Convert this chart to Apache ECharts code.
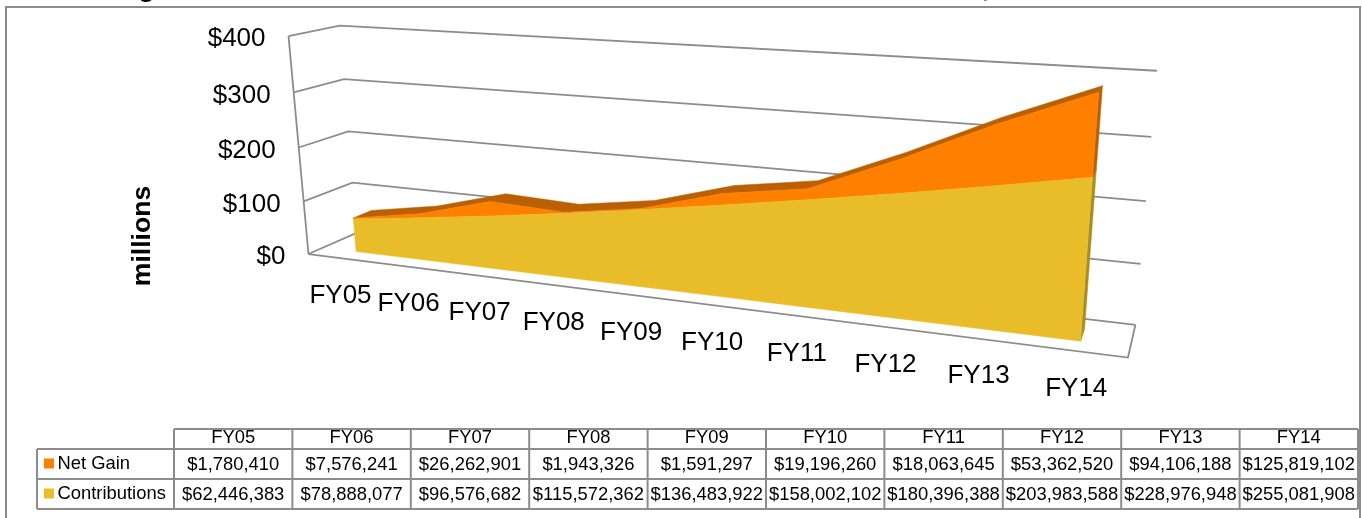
<!DOCTYPE html>
<html><head><meta charset="utf-8">
<style>html,body{margin:0;padding:0;background:#fff;overflow:hidden}#c{width:1362px;height:518px}</style>
<script src="https://cdn.jsdelivr.net/npm/echarts@6/dist/echarts.min.js"></script>
</head><body><div id="c"></div>
<script>
const categories = ['FY05','FY06','FY07','FY08','FY09','FY10','FY11','FY12','FY13','FY14'];
const netGain = [1780410,7576241,26262901,1943326,1591297,19196260,18063645,53362520,94106188,125819102];
const contributions = [62446383,78888077,96576682,115572362,136483922,158002102,180396388,203983588,228976948,255081908];
const yTicks = [0,100,200,300,400];
const titleText = 'Figure 4 - Total Cumulative Contribution and Net Investment Gain, FY';
const axisTitle = 'millions';

const FONT = '"Liberation Sans", Arial, sans-serif';
const GRID = {left:100,top:100,width:1000,height:300};
// picture positions of the chart box corners: [u, depth, t] -> [x, y]
const anchors = [
 [0,0,0,308,254],[0,0,1,288,37],[0,0,.5,299,147],[0,0,.25,304,201],[0,0,.75,294,92],
 [0,1,0,357,233],[0,1,1,340,25],[0,1,.5,348,132],[0,1,.25,352,183],[0,1,.75,344,79],
 [1,1,0,1135,325],[1,1,1,1157,71],[1,1,.5,1146,201],[1,1,.25,1141,263],[1,1,.75,1151,137],
 [1,0,0,1128,358]
];
function solveCamera(){
  const n=11, A=Array.from({length:n},()=>new Array(n+1).fill(0));
  const add=(r,b)=>{for(let i=0;i<n;i++){for(let j=0;j<n;j++)A[i][j]+=r[i]*r[j];A[i][n]+=r[i]*b;}};
  anchors.forEach(([u,w,t,x,y])=>{
    add([u,w,t,1,0,0,0,0,-x*u,-x*w,-x*t],x);
    add([0,0,0,0,u,w,t,1,-y*u,-y*w,-y*t],y);
  });
  for(let c=0;c<n;c++){
    let p=c;for(let r=c+1;r<n;r++)if(Math.abs(A[r][c])>Math.abs(A[p][c]))p=r;
    [A[c],A[p]]=[A[p],A[c]];
    for(let r=0;r<n;r++){if(r===c)continue;const f=A[r][c]/A[c][c];for(let j=c;j<=n;j++)A[r][j]-=f*A[c][j];}
  }
  return A.map((row,i)=>row[n]/row[i]);
}
const P=solveCamera();
function project(u,w,t){
  const d=P[8]*u+P[9]*w+P[10]*t+1;
  return [(P[0]*u+P[1]*w+P[2]*t+P[3])/d,(P[4]*u+P[5]*w+P[6]*t+P[7])/d];
}
const FRONT=0.30, BACK=0.68;
// through the hidden axes' scales
function uOf(api,i){return (api.coord([i,0])[0]-GRID.left)/GRID.width;}
function tOf(api,v){return (GRID.top+GRID.height-api.coord([0,v])[1])/GRID.height;}
const money=v=>'$'+v.toLocaleString('en-US');

const lineStyle={stroke:'#8c8c8c',lineWidth:1.8,fill:null};
function renderFrame(params,api){
  const v=api.value(1), t=tOf(api,v);
  const children=[{type:'polyline',shape:{points:[project(0,0,t),project(0,1,t),project(1,1,t)]},style:lineStyle}];
  if(v===0){
    children.push({type:'polyline',shape:{points:[project(0,0,0),project(1,0,0),project(1,1,0)]},style:lineStyle});
    children.push({type:'polyline',shape:{points:[project(0,0,0),project(0,0,tOf(api,yTicks[yTicks.length-1]))]},style:lineStyle});
  }
  const p=project(0,0,t);
  children.push({type:'text',style:{text:'$'+v,x:p[0]-23,y:p[1]+3,align:'right',verticalAlign:'middle',font:'26px '+FONT,fill:'#000'}});
  return {type:'group',children};
}
function renderArea(params,api){
  if(params.dataIndex!==0) return null;
  const N=categories.length;
  const us=categories.map((_,i)=>uOf(api,i));
  const lo=contributions.map(v=>tOf(api,v/1e6));
  const hi=contributions.map((v,i)=>tOf(api,(v+netGain[i])/1e6));
  const poly=(pts,fill)=>({type:'polygon',shape:{points:pts},style:{fill,stroke:fill,lineWidth:.5}});
  const ft=us.map((u,i)=>project(u,FRONT,hi[i]));
  const bt=us.map((u,i)=>project(u,BACK,hi[i]));
  const fm=us.map((u,i)=>project(u,FRONT,lo[i]));
  const f0=us.map(u=>project(u,FRONT,0));
  const L=N-1,uL=us[L];
  return {type:'group',children:[
    poly(ft.concat(bt.slice().reverse()),'#BA6000'),
    poly([project(uL,FRONT,0),project(uL,BACK,0),project(uL,BACK,lo[L]),project(uL,FRONT,lo[L])],'#A88D1F'),
    poly([project(uL,FRONT,lo[L]),project(uL,BACK,lo[L]),project(uL,BACK,hi[L]),project(uL,FRONT,hi[L])],'#BA6000'),
    poly(ft.concat(fm.slice().reverse()),'#FF7F00'),
    poly(fm.concat(f0.slice().reverse()),'#E9BD29')
  ]};
}
function renderXLabels(params,api){
  const i=api.value(0);
  const p=project(uOf(api,i),0,0);
  return {type:'text',style:{text:categories[i],x:p[0]-1,y:p[1]+37.5,align:'center',verticalAlign:'middle',font:'26px '+FONT,fill:'#000'}};
}

// data table
const TX=174, CW=118.4, TY=[429,449,479,509], LX=37;
const tableStroke={stroke:'#8c8c8c',lineWidth:2};
const gfx=[];
const hline=(x1,x2,y)=>gfx.push({type:'line',shape:{x1,y1:y,x2,y2:y},style:tableStroke});
const vline=(x,y1,y2)=>gfx.push({type:'line',shape:{x1:x,y1,x2:x,y2},style:tableStroke});
const RX=TX+CW*categories.length;
gfx.push({type:'polyline',shape:{points:[[6,518],[6,7],[1360,7],[1360,518]]},style:{stroke:'#8c8c8c',lineWidth:2,fill:null}});
hline(TX,RX,TY[0]);hline(LX,RX,TY[1]);hline(LX,RX,TY[2]);hline(LX,RX,TY[3]);
vline(LX,TY[1],TY[3]);
for(let k=0;k<=categories.length;k++)vline(TX+CW*k,TY[0],TY[3]);
const cell=(text,x,y,align)=>gfx.push({type:'text',x,y,style:{text,align:align||'center',verticalAlign:'middle',font:'18.4px '+FONT,fill:'#000'}});
categories.forEach((c,k)=>{
  const cx=TX+CW*(k+.5);
  cell(c,cx,(TY[0]+TY[1])/2-1);
  cell(money(netGain[k]),cx,(TY[1]+TY[2])/2+1);
  cell(money(contributions[k]),cx,(TY[2]+TY[3])/2+1);
});
[['Net Gain','#FF7F00',1],['Contributions','#EDBC27',2]].forEach(([name,col,r])=>{
  const cy=(TY[r]+TY[r+1])/2;
  gfx.push({type:'rect',shape:{x:44,y:cy-5.5,width:10,height:10},style:{fill:col}});
  cell(name,57.5,cy,'left');
});
gfx.push({type:'text',x:143,y:236,rotation:Math.PI/2,style:{text:axisTitle,align:'center',verticalAlign:'middle',font:'bold 26.6px '+FONT,fill:'#000'}});
gfx.push({type:'text',x:113,y:2.5,style:{text:titleText,align:'left',verticalAlign:'bottom',font:'bold 28px '+FONT,fill:'#000'}});

const chart=echarts.init(document.getElementById('c'),null,{renderer:'canvas'});
chart.setOption({
  animation:false,
  backgroundColor:'#fff',
  grid:GRID,
  xAxis:{type:'category',data:categories,show:false,boundaryGap:true},
  yAxis:{type:'value',min:0,max:400,interval:100,show:false},
  graphic:gfx,
  series:[
    {type:'custom',name:'frame',coordinateSystem:'cartesian2d',clip:false,silent:true,z:1,renderItem:renderFrame,
     data:yTicks.slice().reverse().map(v=>[0,v])},
    {type:'custom',name:'Net Gain / Contributions',coordinateSystem:'cartesian2d',clip:false,silent:true,z:2,renderItem:renderArea,
     data:categories.map((c,i)=>[i,(contributions[i]+netGain[i])/1e6])},
    {type:'custom',name:'labels',coordinateSystem:'cartesian2d',clip:false,silent:true,z:3,renderItem:renderXLabels,
     data:categories.map((c,i)=>[i,0])}
  ]
});
</script></body></html>
